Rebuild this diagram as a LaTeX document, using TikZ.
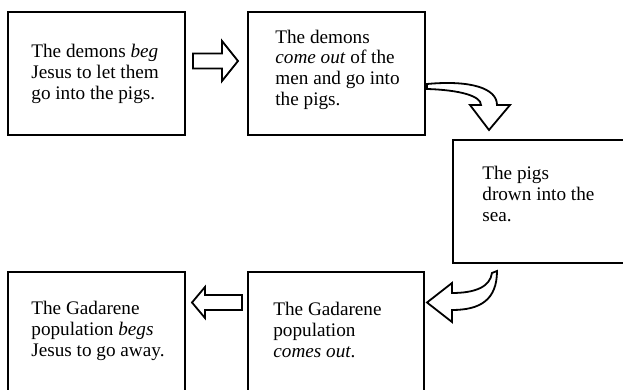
\documentclass[tikz,border=0pt]{standalone}
\usepackage{fontspec}
\setmainfont{Liberation Serif}
\usetikzlibrary{calc}
\begin{document}
\begin{tikzpicture}[x=0.5pt, y=-0.5pt, box/.style={draw, line width=1pt, inner sep=0}, txt/.style={anchor=base west, align=left, inner sep=0, font=\fontsize{9.6}{10.5}\selectfont}, blockarrow/.style={draw, line width=0.9pt, line join=miter, fill=white}]
\useasboundingbox (0,0) rectangle (623,390);
\node[box, minimum width=88.5pt, minimum height=61.5pt] (1) at (96.5,73.5) {};
\node[box, minimum width=88.5pt, minimum height=61.5pt] (2) at (336.5,73.5) {};
\node[box, minimum width=86.5pt, minimum height=61.5pt] (3) at (539.5,201.5) {};
\node[box, minimum width=88pt, minimum height=62pt] (4) at (336,334) {};
\node[box, minimum width=88.5pt, minimum height=62pt] (5) at (96.5,334) {};
% texts, placed at the baseline of their last line
\node[txt] (t1) at (31,100) {The demons \emph{beg}\\Jesus to let them\\go into the pigs.};
\node[txt] (t2) at (275,106) {The demons\\\emph{come out} of the\\men and go into\\the pigs.};
\node[txt] (t3) at (482,222) {The pigs\\drown into the\\sea.};
\node[txt] (t4) at (273,358) {The Gadarene\\population\\\emph{comes out}.};
\node[txt] (t5) at (31,357) {The Gadarene\\population \emph{begs}\\Jesus to go away.};
% block arrows
\draw[blockarrow] (193,53.5) -- (222,53.5) -- (222,41) -- (238,61) -- (222,81) -- (222,68.5) -- (193,68.5) -- cycle;
\draw[blockarrow] (427,84) .. controls (470,80) and (497,88) .. (497,105) -- (510,105) -- (489,130) -- (470,105) -- (481,105) .. controls (481,96) and (460,90) .. (427,89) -- cycle;
\draw[blockarrow] (497,271) .. controls (497,300) and (480,310) .. (452,310) -- (452,322) -- (427,302.5) -- (452,283) -- (452,293) .. controls (475,293) and (490,287) .. (492,273) -- cycle;
\draw[blockarrow] (242,295) -- (205,295) -- (205,287) -- (192,302.5) -- (205,318) -- (205,310) -- (242,310) -- cycle;
\end{tikzpicture}
\end{document}
